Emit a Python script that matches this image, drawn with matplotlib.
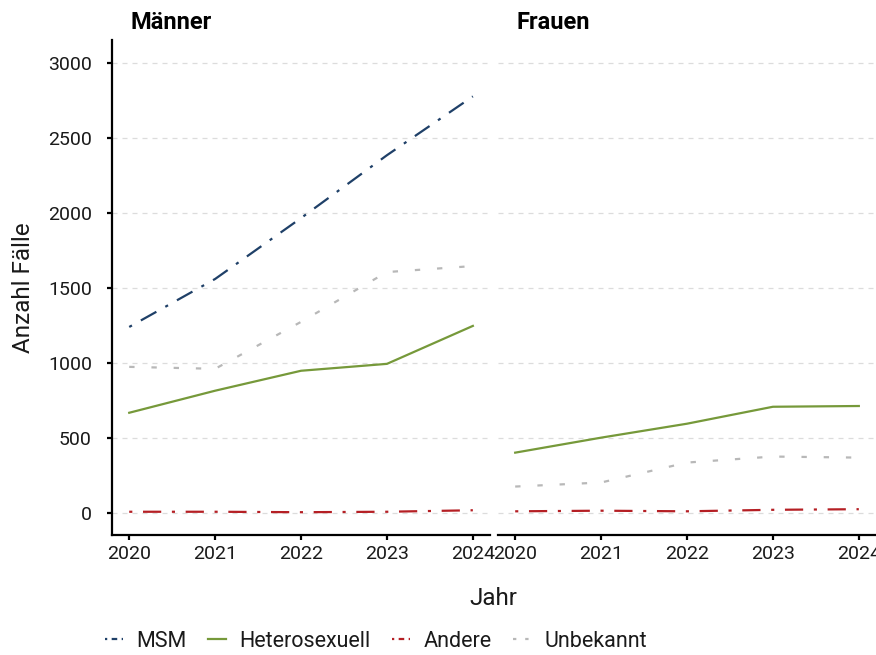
import matplotlib
matplotlib.use("Agg")
import matplotlib.pyplot as plt
from matplotlib.lines import Line2D

plt.rcParams['font.family'] = ['Roboto', 'DejaVu Sans']

years = [2020, 2021, 2022, 2023, 2024]
panels = ["Männer", "Frauen"]
series = ["MSM", "Heterosexuell", "Andere", "Unbekannt"]

men_msm = [1237, 1557, 1963, 2382, 2774]
men_hetero = [665, 812, 945, 991, 1244]
men_andere = [5, 5, 2, 5, 15]
men_unbekannt = [971, 958, 1271, 1603, 1643]

women_msm = None
women_hetero = [399, 499, 592, 705, 710]
women_andere = [8, 12, 8, 18, 22]
women_unbekannt = [173, 200, 333, 373, 366]

colors = {"MSM": "#1f4068", "Heterosexuell": "#76993a", "Andere": "#b51f24", "Unbekannt": "#b8b8b8"}
styles = {"MSM": (0, (1.4, 4.6, 8.0, 4.6)),
          "Heterosexuell": "-",
          "Andere": (0, (1.4, 4.8, 8.2, 4.8)),
          "Unbekannt": (0, (2.4, 7.6))}
legend_styles = {"MSM": (0, (1.0, 2.0, 2.5, 2.0)),
                 "Heterosexuell": "-",
                 "Andere": (0, (1.0, 2.0, 2.5, 2.0)),
                 "Unbekannt": (0, (1.5, 4.0))}

data = {
    "Männer": {"MSM": men_msm, "Heterosexuell": men_hetero, "Andere": men_andere, "Unbekannt": men_unbekannt},
    "Frauen": {"MSM": women_msm, "Heterosexuell": women_hetero, "Andere": women_andere, "Unbekannt": women_unbekannt},
}

fig = plt.figure(figsize=(8.76, 6.55), dpi=100)
ax1 = fig.add_axes([0.1279, 0.1832, 0.4315, 0.7557])
ax2 = fig.add_axes([0.5685, 0.1832, 0.4315, 0.7557], sharey=ax1)

for ax, panel in zip([ax1, ax2], panels):
    for s in series:
        vals = data[panel][s]
        if vals is None:
            continue
        ax.plot(years, vals, color=colors[s], lw=1.6, linestyle=styles[s], dash_capstyle='butt')
    ax.set_xlim(2019.8, 2024.2)
    ax.set_ylim(-150, 3150)
    ax.set_xticks(years)
    ax.set_yticks([0, 500, 1000, 1500, 2000, 2500, 3000])
    ax.grid(axis='y', color='#dcdcdc', linestyle=(0, (4, 4)), lw=0.9)
    ax.set_axisbelow(True)
    for sp in ['top', 'right']:
        ax.spines[sp].set_visible(False)
    ax.spines['bottom'].set_linewidth(1.6)
    ax.tick_params(axis='both', length=3.5, width=1.6, labelsize=14, color='black', labelcolor='#1a1a1a')
    ax.tick_params(axis='x', pad=4)
    ax.tick_params(axis='y', pad=11)
    ax.text(0.048, 1.013, panel, transform=ax.transAxes, fontsize=17, fontweight='bold', ha='left', va='bottom')

ax1.spines['left'].set_linewidth(1.6)
ax2.spines['left'].set_visible(False)
ax2.tick_params(axis='y', left=False, labelleft=False)

ax1.set_ylabel("Anzahl Fälle", fontsize=17.5, color='#1a1a1a', labelpad=9)
fig.text(0.563, 0.087, "Jahr", ha='center', va='center', fontsize=17.5, color='#1a1a1a')

handles = [Line2D([0], [0], color=colors[s], lw=1.6, linestyle=legend_styles[s]) for s in series]
fig.legend(handles, series, loc='center left', bbox_to_anchor=(0.110, 0.021), ncol=4, frameon=False,
           borderaxespad=0, fontsize=15.5, handlelength=0.85, handletextpad=0.6, columnspacing=1.0,
           labelcolor='#1a1a1a')

fig.savefig("out.png", dpi=100)
